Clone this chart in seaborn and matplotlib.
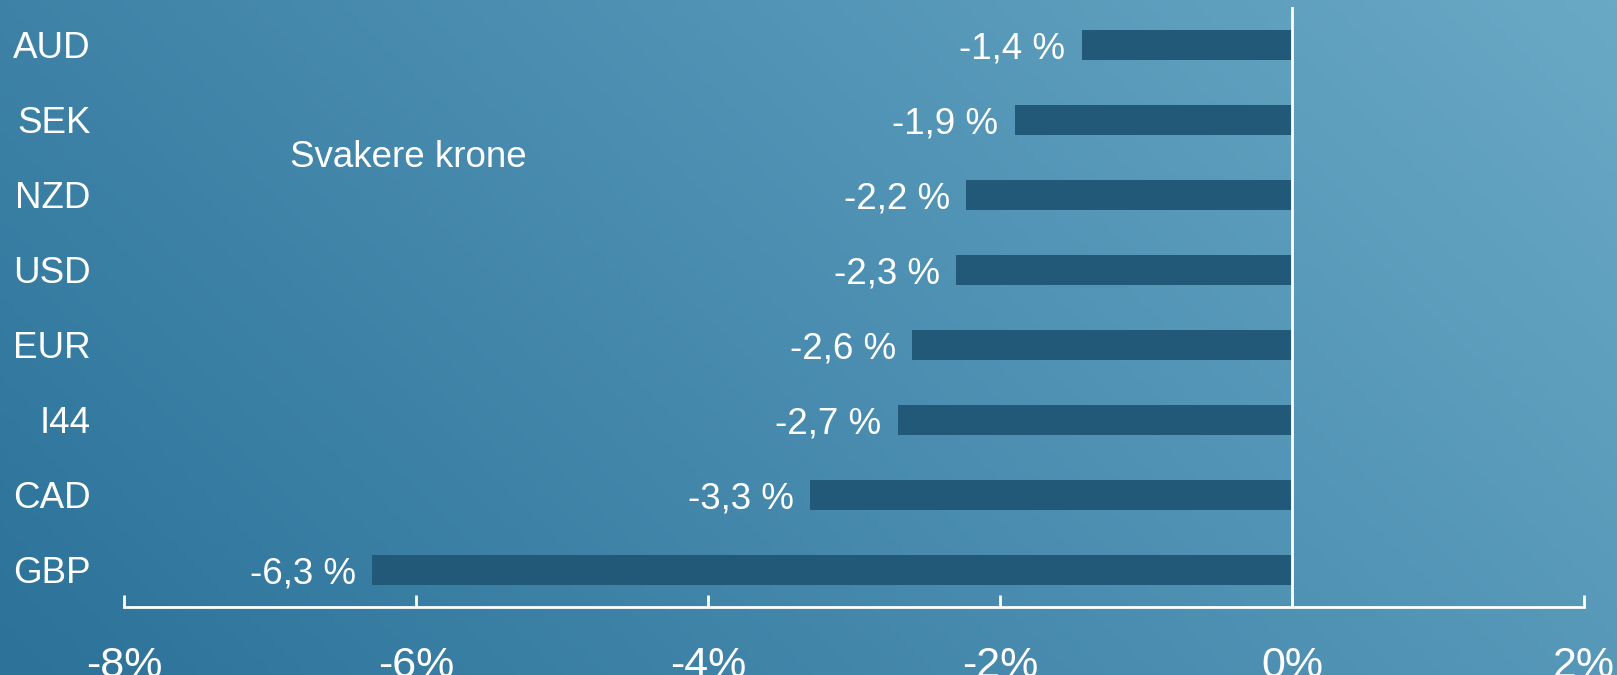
import numpy as np
import pandas as pd
import seaborn as sns
import matplotlib.pyplot as plt
from matplotlib.colors import LinearSegmentedColormap

# data
currencies = ['AUD', 'SEK', 'NZD', 'USD', 'EUR', 'I44', 'CAD', 'GBP']
change_pct = [-1.44, -1.9, -2.23, -2.3, -2.6, -2.7, -3.3, -6.3]
x_ticks = [-8, -6, -4, -2, 0, 2]
x_tick_labels = ['-8%', '-6%', '-4%', '-2%', '0%', '2%']
note_text = 'Svakere krone'

df = pd.DataFrame({'currency': currencies, 'change': change_pct})

sns.set_theme(style='white')
plt.rcParams['font.family'] = ['Liberation Sans', 'DejaVu Sans']

fig = plt.figure(figsize=(16.17, 6.75), dpi=100)

# gradient background, dark bottom-left to light top-right
bg = fig.add_axes([0, 0, 1, 1], zorder=0)
xx, yy = np.meshgrid(np.linspace(0, 1, 400), np.linspace(1, 0, 200))
grad = (xx * 0.7 + yy * 0.3)
cmap = LinearSegmentedColormap.from_list('bg', ['#2c7299', '#4a8db0', '#6aa9c6'])
bg.imshow(grad, cmap=cmap, aspect='auto', extent=[0, 1, 0, 1])
bg.set_axis_off()

ax = fig.add_axes([0.0767, 0.1007, 0.9029, 0.8889], zorder=1)
ax.patch.set_alpha(0)

sns.barplot(data=df, y='currency', x='change', orient='h', color='#225978',
            width=0.4, saturation=1, linewidth=0, ax=ax)

ax.axvline(0, color='white', lw=2, zorder=3)

labels = [f'{v:.1f} %'.replace('.', ',') for v in change_pct]
texts = ax.bar_label(ax.containers[0], labels=labels, padding=12, color='white',
                     fontsize=26.5)
for t in texts:
    t.set_verticalalignment('center_baseline')

ax.text(-6.86, 1.5, note_text, color='white', fontsize=26.5, va='center', ha='left')

ax.set_xlim(-8, 2)
ax.set_ylim(7.5, -0.5)
ax.set_xticks(x_ticks)
ax.set_xticklabels(x_tick_labels)
ax.set_xlabel('')
ax.set_ylabel('')

for s in ['top', 'right', 'left']:
    ax.spines[s].set_visible(False)
ax.spines['bottom'].set_color('white')
ax.spines['bottom'].set_linewidth(2)

ax.tick_params(axis='x', direction='in', length=9, width=2, color='white',
               labelcolor='white', labelsize=31, pad=28, bottom=True)
ax.tick_params(axis='y', length=0, labelcolor='white', labelsize=26.5, pad=24)

fig.savefig('out.png', dpi=100)
